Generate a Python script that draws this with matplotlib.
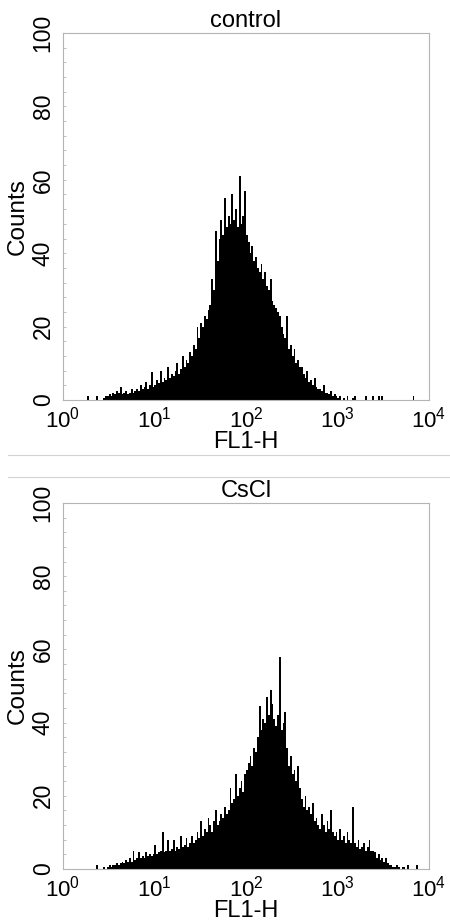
import matplotlib
matplotlib.use("Agg")
import matplotlib.pyplot as plt
from matplotlib.lines import Line2D
from matplotlib.ticker import MultipleLocator, NullLocator
import numpy as np

plt.rcParams['font.family'] = ['Liberation Sans', 'DejaVu Sans']
plt.rcParams['mathtext.fontset'] = 'custom'
plt.rcParams['mathtext.rm'] = 'Liberation Sans'
plt.rcParams['mathtext.it'] = 'Liberation Sans'

# histogram counts, 200 channels spanning 10^0 .. 10^4 (0.02 decade each)
control_counts = [
    0, 0, 0, 0, 0, 0, 0, 0, 0, 0,
    0, 0, 0, 1, 0, 0, 0, 0, 1, 0,
    0, 0, 0.5, 1, 1, 1.5, 1, 2, 1.5, 2.5,
    2, 3.5, 1.5, 2, 2.5, 1.5, 2, 3, 2, 2.5,
    3, 2.5, 4, 3, 3.5, 5, 3, 4, 7.5, 3.5,
    4, 5.5, 4.5, 8, 5, 6, 5.5, 9, 6, 7,
    6.5, 8, 10, 7, 8.5, 12, 9, 11, 10, 13,
    12, 15, 14, 20, 17, 21, 20, 23, 22, 24.5,
    26, 33, 30, 46, 38, 44, 49, 45, 55, 47,
    50, 48, 56, 49, 52, 47, 61, 48, 50, 57,
    45, 43, 40, 42, 38, 39, 36, 35, 37, 33,
    35, 31, 30, 33, 27, 26, 25, 24, 23, 20,
    18, 17, 23, 14, 15, 12, 14, 10, 11, 9,
    9, 7, 6, 8, 5, 5.5, 4, 6, 3.5, 3,
    3, 2.5, 4, 2, 2, 1.5, 2.5, 1, 1.5, 1,
    0.5, 1, 0, 0.5, 0, 1, 0, 0, 0.5, 1,
    0, 0, 0, 0, 0, 1, 0, 0, 0, 1,
    0, 0, 1, 0, 1, 0, 0, 0, 0, 0,
    0, 0, 0, 0, 0, 0, 0, 0, 0, 0,
    0, 1, 0, 0, 0, 0, 0, 0, 0, 0,
]

cscl_counts = [
    0, 0, 0, 0, 0, 0, 0, 0, 0, 0,
    0, 0, 0, 0, 0, 0, 0, 0, 1, 0,
    0, 0, 0.5, 0, 0.5, 1, 0.5, 1, 1, 1.5,
    1, 1.5, 2, 1.5, 2.5, 2, 3, 2, 5, 2.5,
    3, 4.5, 3, 3.5, 3, 4.5, 3.5, 4, 3.5, 4,
    6.5, 4, 4.5, 5, 10, 4.5, 5, 8, 5, 5.5,
    8, 5, 6, 5.5, 9, 6, 6.5, 8.5, 6, 7,
    9, 7, 8, 10, 8.5, 13, 9, 11, 10, 14,
    12, 10, 13, 16, 12, 13, 15, 14, 17, 15,
    16, 22, 18, 19, 26, 20, 22, 24, 21, 26,
    27, 29, 31, 28, 33, 32, 36, 44.5, 38, 41,
    40, 47, 42, 49, 45, 41, 39, 42, 58, 38,
    40, 43, 33, 28, 31, 26, 27, 24, 28, 22,
    19, 17, 20, 16, 17, 15, 18, 13, 14, 12,
    11, 15, 12, 10, 13, 11, 16, 10, 9, 10,
    8, 11, 8, 9, 7, 10, 8, 7, 17, 7,
    6, 8, 5.5, 6, 7, 5, 6, 8, 5, 5,
    4.5, 3, 4, 2.5, 3, 2, 3, 1.5, 1, 1,
    0.5, 0.5, 1, 0.5, 0, 0.5, 0.5, 0, 1, 0,
    0, 0, 0, 1, 0, 0, 0, 0, 0, 0,
]

panels = [("control", control_counts), ("CsCl", cscl_counts)]
xtick_vals = [1, 10, 100, 1000, 10000]
xtick_labels = ['$10^{0}$', '$10^{1}$', '$10^{2}$', '$10^{3}$', '$10^{4}$']
ytick_vals = [0, 20, 40, 60, 80, 100]

fig = plt.figure(figsize=(4.5, 9.21), dpi=100)
rects = [[0.14, 0.5657, 0.8133, 0.3985],
         [0.14, 0.0565, 0.8133, 0.3974]]
spine_col = '#b4b4b4'

for (title, counts), r in zip(panels, rects):
    ax = fig.add_axes(r)
    edges = np.logspace(0, 4, len(counts) + 1)
    ax.stairs(counts, edges, fill=True, color='black', linewidth=0)
    ax.set_xscale('log')
    ax.set_xlim(1, 10000)
    ax.set_ylim(0, 100)
    ax.set_xticks(xtick_vals)
    ax.set_xticklabels(xtick_labels, fontsize=16)
    ax.xaxis.set_minor_locator(NullLocator())
    ax.set_yticks(ytick_vals)
    ax.set_yticklabels([str(v) for v in ytick_vals], fontsize=16.5,
                       rotation=90, va='center')
    ax.yaxis.set_minor_locator(MultipleLocator(4))
    ax.tick_params(axis='x', length=0, pad=5)
    ax.tick_params(axis='y', which='both', direction='in', length=2,
                   color=spine_col, width=0.6, pad=6)
    for s in ax.spines.values():
        s.set_color(spine_col)
        s.set_linewidth(0.8)
    ax.set_title(title, fontsize=17, pad=4)
    ax.set_xlabel('FL1-H', fontsize=17, labelpad=-1)
    ax.set_ylabel('Counts', fontsize=17.5, labelpad=2)

# thin separators between the two panels
for yy in [1 - 455 / 921, 1 - 477 / 921]:
    fig.add_artist(Line2D([8 / 450, 1.0], [yy, yy], transform=fig.transFigure,
                          color='#d4d4d4', linewidth=0.8))

fig.savefig('out.png', dpi=100)
